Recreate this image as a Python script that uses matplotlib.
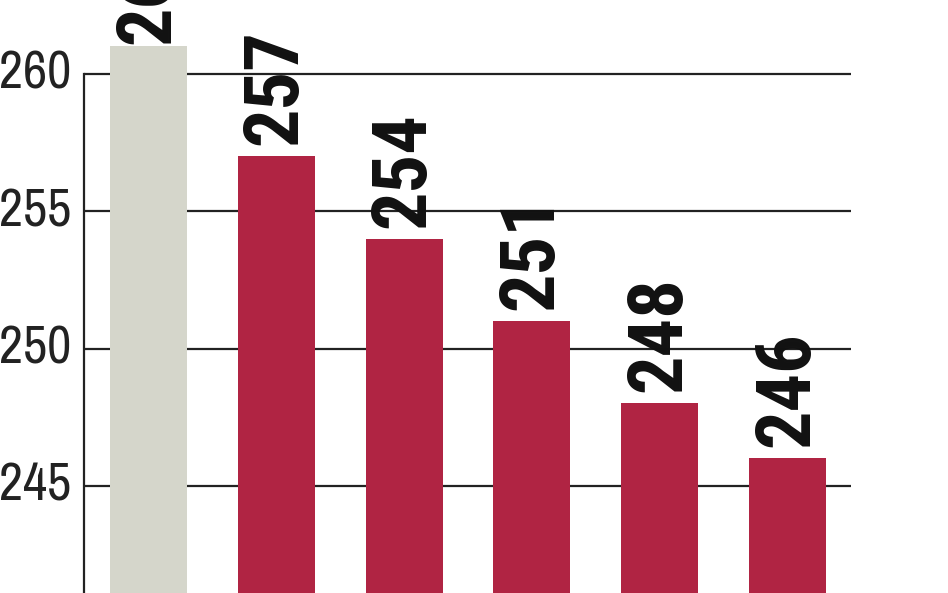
import matplotlib
matplotlib.use("Agg")
import matplotlib.pyplot as plt
from matplotlib import font_manager

values = [261, 257, 254, 251, 248, 246]
bar_colors = ["#d5d6cb", "#b02443", "#b02443", "#b02443", "#b02443", "#b02443"]
yticks = [245, 250, 255, 260]

# pick a narrow face that has a bold weight, if one is installed
fonts = font_manager.fontManager.ttflist
narrow = {}
for f in fonts:
    if "Narrow" in f.name or "Condensed" in f.name:
        w = f.weight if isinstance(f.weight, int) else 700 if "bold" in str(f.weight) else 400
        narrow.setdefault(f.name, set()).add(w)
bold_narrow = [n for n, ws in narrow.items() if max(ws) >= 700]
pref = [n for n in ("Liberation Sans Narrow", "Roboto Condensed") if n in bold_narrow]
if pref or bold_narrow:
    lab_fam = [(pref or bold_narrow)[0], "DejaVu Sans"]
    lab_size = 55
else:
    lab_fam = ["DejaVu Sans"]
    lab_size = 40
tick_fam = [list(narrow)[0], "DejaVu Sans"] if narrow else ["DejaVu Sans"]
tick_size = 38 if narrow else 30

fig = plt.figure(figsize=(9.48, 5.93), dpi=100)
ax = fig.add_axes([84 / 948, 0, (851 - 84) / 948, 1])

x = list(range(len(values)))
ax.bar(x, values, width=0.603, color=bar_colors, zorder=2)
for yv in yticks:
    ax.axhline(yv, color="#222222", lw=1.6, zorder=1)

for xi, v in zip(x, values):
    off = 2 if xi == 0 else 8
    ax.annotate(f"{v}", (xi, v), xytext=(0, off), textcoords="offset points",
                rotation=90, ha="center", va="bottom", fontsize=lab_size,
                fontweight="bold", family=lab_fam, color="#111111", zorder=3)

ax.set_xlim(-0.505, 5.497)
ax.set_ylim(241.1, 262.69)
ax.set_yticks(yticks)
ax.set_yticklabels([str(t) for t in yticks], family=tick_fam,
                   fontsize=tick_size, color="#222222")
ax.tick_params(axis="y", length=0, pad=9)
for lbl in ax.get_yticklabels():
    lbl.set_verticalalignment("center")
ax.set_xticks([])
for s in ["top", "right", "bottom"]:
    ax.spines[s].set_visible(False)
ax.spines["left"].set_bounds(241.1, 260)
ax.spines["left"].set_linewidth(1.6)
ax.spines["left"].set_color("#222222")

fig.savefig("out.png", dpi=100, facecolor="white")
